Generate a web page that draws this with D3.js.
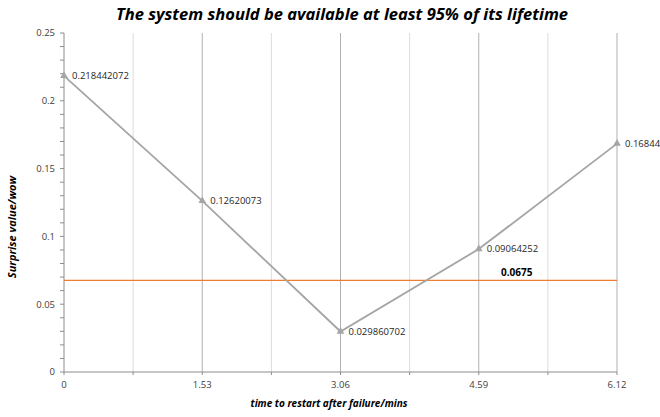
<!DOCTYPE html>
<html>
<head>
<meta charset="utf-8">
<script src="https://cdn.jsdelivr.net/npm/d3@7"></script>
<style>
  body { margin: 0; background: #fff; }
  text { font-family: "Open Sans", "Liberation Sans", sans-serif; }
</style>
</head>
<body>
<svg id="chart"></svg>
<script>
const xValues = [0, 1.53, 3.06, 4.59, 6.12]
const yValues = [0.218442072, 0.12620073, 0.029860702, 0.09064252, 0.16844]
const pointLabels = ['0.218442072', '0.12620073', '0.029860702', '0.09064252', '0.16844']
const xTicks = [0, 1.53, 3.06, 4.59, 6.12]
const xGrid = [0.765, 1.53, 2.295, 3.06, 3.825, 4.59, 5.355, 6.12]
const yTicks = [0, 0.05, 0.1, 0.15, 0.2, 0.25]
const threshold = 0.0675

const width = 660
const height = 417
const margin = {top: 33, right: 43, bottom: 45, left: 64}

const svg = d3.select('#chart')
    .attr('width', width)
    .attr('height', height)

const x = d3.scaleLinear().domain([0, 6.12]).range([margin.left, width - margin.right])
const y = d3.scaleLinear().domain([0, 0.25]).range([height - margin.bottom, margin.top])

// vertical gridlines, majors a bit darker
svg.append('g')
    .selectAll('line')
    .data(xGrid)
    .join('line')
    .attr('x1', d => x(d)).attr('x2', d => x(d))
    .attr('y1', y(0.25)).attr('y2', y(0))
    .attr('stroke', (d, i) => i % 2 === 1 ? '#b0b0b0' : '#dcdcdc')
    .attr('stroke-width', 1)

// y axis with minor ticks
const yAxis = svg.append('g').attr('transform', `translate(${x(0)},0)`)
yAxis.append('line')
    .attr('y1', y(0)).attr('y2', y(0.25))
    .attr('stroke', '#8c8c8c')
yAxis.selectAll('.minor')
    .data(d3.range(0, 26).map(i => i * 0.01))
    .join('line')
    .attr('x1', -4).attr('x2', 0)
    .attr('y1', d => y(d)).attr('y2', d => y(d))
    .attr('stroke', '#8c8c8c')
yAxis.selectAll('text')
    .data(yTicks)
    .join('text')
    .attr('x', -9)
    .attr('y', d => y(d))
    .attr('dy', '0.35em')
    .attr('text-anchor', 'end')
    .attr('font-size', 9.5)
    .attr('fill', '#404040')
    .text(d => d)

// x axis
const xAxis = svg.append('g').attr('transform', `translate(0,${y(0)})`)
xAxis.append('line')
    .attr('x1', x(0)).attr('x2', x(6.12))
    .attr('stroke', '#8c8c8c')
xAxis.selectAll('.tick')
    .data([0].concat(xGrid))
    .join('line')
    .attr('x1', d => x(d)).attr('x2', d => x(d))
    .attr('y1', 0).attr('y2', 3)
    .attr('stroke', '#8c8c8c')
xAxis.selectAll('text')
    .data(xTicks)
    .join('text')
    .attr('x', d => x(d))
    .attr('y', 16)
    .attr('text-anchor', 'middle')
    .attr('font-size', 9.5)
    .attr('fill', '#404040')
    .text(d => d)

// threshold line
svg.append('line')
    .attr('x1', x(0)).attr('x2', x(6.12))
    .attr('y1', y(threshold)).attr('y2', y(threshold))
    .attr('stroke', '#ed7d31')
    .attr('stroke-width', 1.2)
svg.append('text')
    .attr('x', x(5.01))
    .attr('y', y(threshold) - 4)
    .attr('text-anchor', 'middle')
    .attr('font-size', 10)
    .attr('font-weight', 'bold')
    .attr('fill', '#000')
    .text(threshold)

// series line
const pts = xValues.map((v, i) => ({x: v, y: yValues[i], label: pointLabels[i]}))
svg.append('path')
    .datum(pts)
    .attr('fill', 'none')
    .attr('stroke', '#a5a5a5')
    .attr('stroke-width', 1.8)
    .attr('d', d3.line().x(d => x(d.x)).y(d => y(d.y)))

svg.append('g')
    .selectAll('path')
    .data(pts)
    .join('path')
    .attr('d', d3.symbol(d3.symbolTriangle, 26))
    .attr('transform', d => `translate(${x(d.x)},${y(d.y)})`)
    .attr('fill', '#a5a5a5')

svg.append('g')
    .selectAll('text')
    .data(pts)
    .join('text')
    .attr('x', d => x(d.x) + 8)
    .attr('y', d => y(d.y))
    .attr('dy', '0.35em')
    .attr('font-size', 9.5)
    .attr('fill', '#262626')
    .text(d => d.label)

// titles
svg.append('text')
    .attr('x', 342)
    .attr('y', 20)
    .attr('text-anchor', 'middle')
    .attr('font-size', 16.5)
    .attr('font-weight', 'bold')
    .attr('font-style', 'italic')
    .text('The system should be available at least 95% of its lifetime')

svg.append('text')
    .attr('x', 329)
    .attr('y', 407)
    .attr('text-anchor', 'middle')
    .attr('font-size', 10)
    .attr('font-weight', 'bold')
    .attr('font-style', 'italic')
    .text('time to restart after failure/mins')

svg.append('text')
    .attr('transform', 'translate(16,227) rotate(-90)')
    .attr('text-anchor', 'middle')
    .attr('font-size', 11)
    .attr('font-weight', 'bold')
    .attr('font-style', 'italic')
    .text('Surprise value/wow')
</script>
</body>
</html>
